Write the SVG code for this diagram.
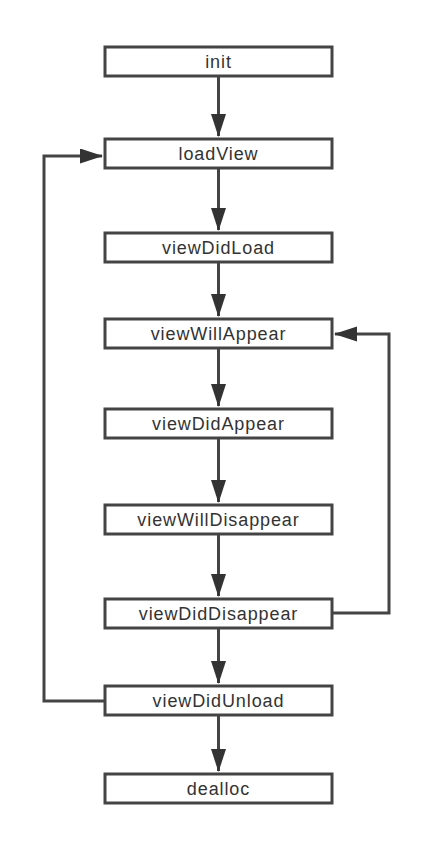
<svg xmlns="http://www.w3.org/2000/svg" width="426" height="852" viewBox="0 0 426 852">
<style>
.box{fill:#fff;stroke:#444;stroke-width:3}
.lbl{font-family:"Liberation Sans",Arial,sans-serif;font-size:18px;letter-spacing:0.9px;fill:#333;text-anchor:middle}
.edge{fill:none;stroke:#444;stroke-width:3;marker-end:url(#ah)}
</style>
<defs>
<marker id="ah" markerUnits="userSpaceOnUse" markerWidth="24" markerHeight="16" refX="22" refY="7.5" orient="auto">
<path d="M0,0 L23,7.5 L0,15 Z" fill="#333"/>
</marker>
</defs>
<rect width="426" height="852" fill="#fff"/>
<g id="connectors">
<path class="edge" d="M218.5,76 V136"/>
<path class="edge" d="M218.5,168 V230"/>
<path class="edge" d="M218.5,262 V316"/>
<path class="edge" d="M218.5,348 V406"/>
<path class="edge" d="M218.5,438 V502"/>
<path class="edge" d="M218.5,534 V596"/>
<path class="edge" d="M218.5,628 V683"/>
<path class="edge" d="M218.5,715 V771"/>
<path class="edge" d="M104,701 H44 V156 H102"/>
<path class="edge" d="M333,613 H389 V334 H335"/>
</g>
<g id="init"><rect class="box" x="105" y="47" width="227" height="29"/><text class="lbl" x="218.5" y="68">init</text></g>
<g id="loadView"><rect class="box" x="105" y="139" width="227" height="29"/><text class="lbl" x="218.5" y="160">loadView</text></g>
<g id="viewDidLoad"><rect class="box" x="105" y="233" width="227" height="29"/><text class="lbl" x="218.5" y="254">viewDidLoad</text></g>
<g id="viewWillAppear"><rect class="box" x="105" y="319" width="227" height="29"/><text class="lbl" x="218.5" y="340">viewWillAppear</text></g>
<g id="viewDidAppear"><rect class="box" x="105" y="409" width="227" height="29"/><text class="lbl" x="218.5" y="430">viewDidAppear</text></g>
<g id="viewWillDisappear"><rect class="box" x="105" y="505" width="227" height="29"/><text class="lbl" x="218.5" y="526">viewWillDisappear</text></g>
<g id="viewDidDisappear"><rect class="box" x="105" y="599" width="227" height="29"/><text class="lbl" x="218.5" y="620">viewDidDisappear</text></g>
<g id="viewDidUnload"><rect class="box" x="105" y="686" width="227" height="29"/><text class="lbl" x="218.5" y="707">viewDidUnload</text></g>
<g id="dealloc"><rect class="box" x="105" y="774" width="227" height="29"/><text class="lbl" x="218.5" y="795">dealloc</text></g>
</svg>
